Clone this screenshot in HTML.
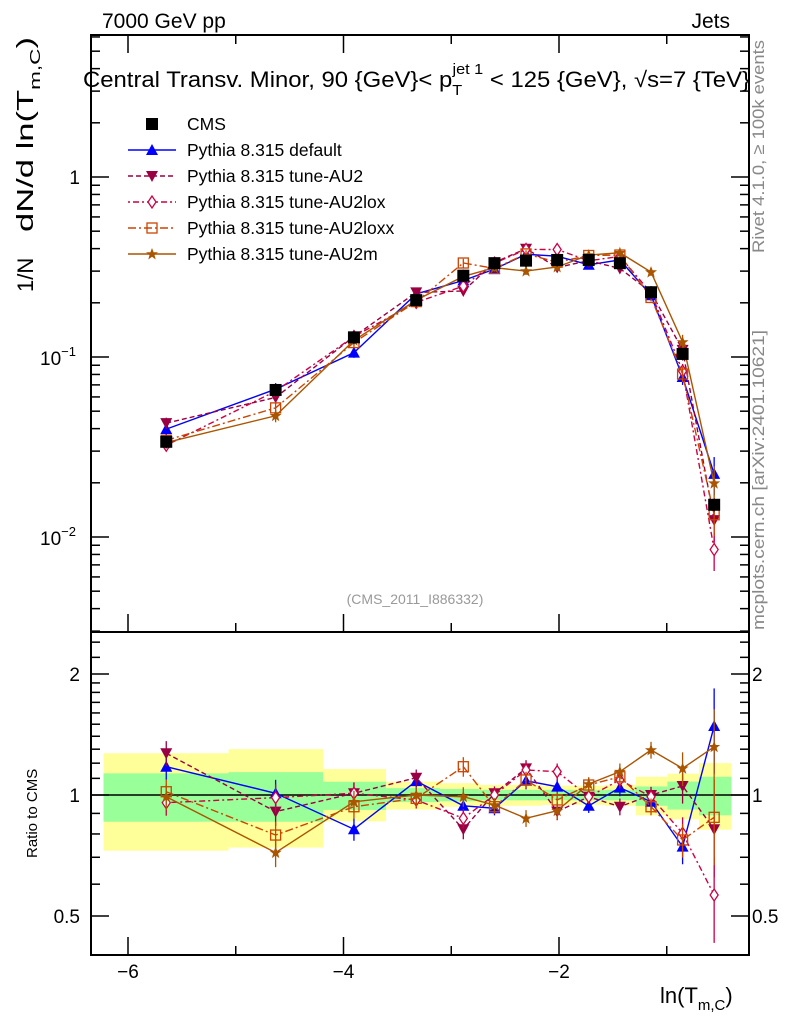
<!DOCTYPE html>
<html><head><meta charset="utf-8"><style>
html,body{margin:0;padding:0;background:#fff;}
svg{display:block;font-family:"Liberation Sans",Arial,sans-serif;}
</style></head><body>
<svg id="chart" width="786" height="1024" viewBox="0 0 786 1024" xmlns="http://www.w3.org/2000/svg">
<g id="bands"></g>
<g id="frames"></g>
<g id="series"></g>
<g id="texts">
 <text x="102" y="28" font-size="21">7000 GeV pp</text>
 <text x="730" y="28" font-size="21" text-anchor="end">Jets</text>
 <text x="83" y="87" font-size="22" textLength="667" lengthAdjust="spacingAndGlyphs">Central Transv. Minor, 90 {GeV}&lt; p<tspan font-size="15" dy="8">T</tspan><tspan font-size="15" dx="-9" dy="-21">jet 1</tspan><tspan dy="13"> &lt; 125 {GeV}, √s=7 {TeV}</tspan></text>
 <text transform="translate(33,292) rotate(-90)" font-size="22">1/N</text>
 <text transform="translate(33,232) rotate(-90)" font-size="23" textLength="195" lengthAdjust="spacingAndGlyphs">dN/d ln(T<tspan font-size="15" dy="7">m,C</tspan><tspan dy="-7">)</tspan></text>
 <text transform="translate(37,858) rotate(-90)" font-size="15">Ratio to CMS</text>
 <text transform="translate(764,253) rotate(-90)" font-size="17" fill="#888" textLength="213" lengthAdjust="spacingAndGlyphs">Rivet 4.1.0, ≥ 100k events</text>
 <text transform="translate(764,630) rotate(-90)" font-size="17" fill="#888" textLength="300" lengthAdjust="spacingAndGlyphs">mcplots.cern.ch [arXiv:2401.10621]</text>
 <text x="415" y="604" font-size="14" fill="#999" text-anchor="middle">(CMS_2011_I886332)</text>
 <text x="660" y="1003" font-size="22">ln(T<tspan font-size="15" dy="7">m,C</tspan><tspan dy="-7">)</tspan></text>
</g>
<g id="legend"></g>
</svg>
<script>
const xCenters=[-5.645,-4.630,-3.903,-3.325,-2.888,-2.599,-2.306,-2.017,-1.724,-1.435,-1.146,-0.853,-0.560];
const binEdges=[-6.227,-5.067,-4.190,-3.605,-3.104,-2.743,-2.455,-2.158,-1.862,-1.574,-1.287,-0.994,-0.701,-0.400];
const cmsVals=[0.0338,0.0656,0.1286,0.207,0.283,0.332,0.343,0.346,0.346,0.332,0.229,0.104,0.0151];
const yellowLo=[0.727,0.74,0.86,0.92,0.935,0.94,0.94,0.945,0.945,0.94,0.89,0.87,0.82];
const yellowHi=[1.27,1.30,1.16,1.08,1.07,1.06,1.06,1.055,1.055,1.06,1.11,1.13,1.20];
const greenLo=[0.858,0.858,0.918,0.96,0.965,0.97,0.97,0.97,0.97,0.97,0.94,0.92,0.89];
const greenHi=[1.132,1.14,1.079,1.04,1.035,1.03,1.03,1.03,1.03,1.03,1.05,1.08,1.11];
const ratioDefault=[1.176,1.01,0.822,1.083,0.94,0.927,1.085,1.049,0.94,1.043,0.962,0.744,1.485];
const ratioAU2=[1.27,0.909,1.01,1.104,0.822,1.01,1.165,0.909,0.99,0.935,1.0,1.053,0.822];
const ratioAU2lox=[0.957,0.985,1.01,0.972,0.875,1.0,1.154,1.143,0.99,1.09,0.99,0.803,0.564];
const ratioAU2loxx=[1.019,0.795,0.935,0.981,1.176,0.935,1.09,0.972,1.059,1.11,0.935,0.773,0.88];
const ratioAU2m=[0.99,0.719,0.962,1.0,0.99,0.944,0.875,0.914,1.065,1.143,1.294,1.165,1.318];
const relErr=[0.09,0.1,0.08,0.06,0.07,0.05,0.06,0.06,0.05,0.06,0.06,0.12,0.3];

const NS="http://www.w3.org/2000/svg";
const L=91,R=749,T=35,MB=632,B=955;
function X(v){return 559+(v+2)*107.75;}
function Y(v){return 177-180*Math.log10(v);}
function RY(r){return 795-402*Math.log10(r);}
function mk(tag,attrs,parent){const e=document.createElementNS(NS,tag);for(const k in attrs)e.setAttribute(k,attrs[k]);parent.appendChild(e);return e;}
const bands=document.getElementById('bands'),frames=document.getElementById('frames'),ser=document.getElementById('series'),leg=document.getElementById('legend'),texts=document.getElementById('texts');

for(let i=0;i<xCenters.length;i++){
 const x0=X(binEdges[i]),x1=X(binEdges[i+1]);
 const y=mk('rect',{x:x0,y:RY(yellowHi[i]),width:x1-x0,height:RY(yellowLo[i])-RY(yellowHi[i]),fill:'#ffff99'},bands);
 
 
 const g=mk('rect',{x:x0,y:RY(greenHi[i]),width:x1-x0,height:RY(greenLo[i])-RY(greenHi[i]),fill:'#99ff99'},bands);
 
 
}
const f1=mk('rect',{x:L,y:T,width:R-L,height:MB-T,fill:'none',stroke:'#000','stroke-width':2},frames);


const f2=mk('rect',{x:L,y:MB,width:R-L,height:B-MB,fill:'none',stroke:'#000','stroke-width':2},frames);


const one=mk('line',{x1:L,x2:R,y1:RY(1),y2:RY(1),stroke:'#000','stroke-width':1.5},frames);


for(let v=-6.2;v<=-0.35;v+=0.2){const major=Math.abs(v-Math.round(v))<0.01&&Math.round(v)%2===0;const minor=Math.abs(v*2-Math.round(v*2))<0.01;
 if(!minor&&!major)continue;const len=major?18:9;
 for(const yb of [MB,B]){mk('line',{x1:X(v),x2:X(v),y1:yb,y2:yb-len,stroke:'#000','stroke-width':1.5},frames);}
 mk('line',{x1:X(v),x2:X(v),y1:T,y2:T+len,stroke:'#000','stroke-width':1.5},frames);
}
for(const v of [-6,-4,-2]){const t=mk('text',{x:X(v),y:978,'font-size':19,'text-anchor':'middle'},texts);t.textContent='−'+Math.abs(v);
 
 }
for(let d=-3;d<=0;d++){for(let m=1;m<10;m++){const v=m*Math.pow(10,d);const y=Y(v);if(y<T||y>MB)continue;const len=m===1?18:9;
 mk('line',{x1:L,x2:L+len,y1:y,y2:y,stroke:'#000','stroke-width':1.5},frames);mk('line',{x1:R,x2:R-len,y1:y,y2:y,stroke:'#000','stroke-width':1.5},frames);}}
for(let m=1;m<10;m++){const y=Y(m*10);if(y<T)continue;mk('line',{x1:L,x2:L+(m===1?18:9),y1:y,y2:y,stroke:'#000','stroke-width':1.5},frames);mk('line',{x1:R,x2:R-9,y1:y,y2:y,stroke:'#000','stroke-width':1.5},frames);}
const yl1=mk('text',{x:80,y:184,'font-size':19,'text-anchor':'end'},texts);yl1.textContent='1';


for(const [d,y] of [[-1,357],[-2,537]]){const t=mk('text',{x:40,y:y+8,'font-size':19},texts);t.innerHTML='10<tspan font-size="13" dy="-9">−'+(-d)+'</tspan>';
 
 }
for(const r of [0.4,0.5,0.6,0.7,0.8,0.9,1,1.1,1.2,1.3,1.4,1.5,1.6,1.7,1.8,1.9,2,2.2,2.4]){const y=RY(r);if(y<MB||y>B)continue;const len=(r===0.5||r===1||r===2)?18:9;
 mk('line',{x1:L,x2:L+len,y1:y,y2:y,stroke:'#000','stroke-width':1.5},frames);mk('line',{x1:R,x2:R-len,y1:y,y2:y,stroke:'#000','stroke-width':1.5},frames);}
for(const r of [0.5,1,2]){for(const [x,a] of [[80,'end'],[752,'start']]){const t=mk('text',{x:x,y:RY(r)+7,'font-size':19,'text-anchor':a},texts);t.textContent=String(r);
 
 }}

function marker(kind,x,y,color,parent){
 if(kind==='sq')return mk('rect',{x:x-6,y:y-6,width:12,height:12,fill:'#000'},parent);
 if(kind==='tri')return mk('polygon',{points:`${x},${y-6} ${x-6},${y+5} ${x+6},${y+5}`,fill:color},parent);
 if(kind==='dtri')return mk('polygon',{points:`${x},${y+6} ${x-6},${y-5} ${x+6},${y-5}`,fill:color},parent);
 if(kind==='dia')return mk('polygon',{points:`${x},${y-6} ${x-4},${y} ${x},${y+6} ${x+4},${y}`,fill:'#fff',stroke:color,'stroke-width':1.3},parent);
 if(kind==='osq')return mk('rect',{x:x-5,y:y-5,width:10,height:10,fill:'none',stroke:color,'stroke-width':1.3},parent);
 if(kind==='star')return mk('polygon',{points:`${x},${y-6} ${x+1.6},${y-1.8} ${x+6},${y-1.8} ${x+2.5},${y+1} ${x+3.7},${y+5.5} ${x},${y+2.8} ${x-3.7},${y+5.5} ${x-2.5},${y+1} ${x-6},${y-1.8} ${x-1.6},${y-1.8}`,fill:color},parent);
}
const seriesDefs=[
 {name:'Pythia 8.315 default',ratio:ratioDefault,color:'#0000ff',dash:'',m:'tri',key:'default'},
 {name:'Pythia 8.315 tune-AU2',ratio:ratioAU2,color:'#990044',dash:'5,3',m:'dtri',key:'au2'},
 {name:'Pythia 8.315 tune-AU2lox',ratio:ratioAU2lox,color:'#cc0044',dash:'2,3,6,3',m:'dia',key:'au2lox'},
 {name:'Pythia 8.315 tune-AU2loxx',ratio:ratioAU2loxx,color:'#cc4400',dash:'8,3,2,3',m:'osq',key:'au2loxx'},
 {name:'Pythia 8.315 tune-AU2m',ratio:ratioAU2m,color:'#aa5500',dash:'',m:'star',key:'au2m'}
];
seriesDefs.forEach(s=>{
 const g=mk('g',{},ser);
 
 
 const main=xCenters.map((x,i)=>[X(x),Y(cmsVals[i]*s.ratio[i])]);
 const rat=xCenters.map((x,i)=>[X(x),RY(s.ratio[i])]);
 for(const pts of [main,rat]){
  const pl=mk('polyline',{points:pts.map(p=>p.join(',')).join(' '),fill:'none',stroke:s.color,'stroke-width':1.4,'stroke-dasharray':s.dash},g);
  
  
 }
 xCenters.forEach((x,i)=>{
  const v=cmsVals[i]*s.ratio[i],e=relErr[i]*0.8;
  mk('line',{x1:X(x),x2:X(x),y1:Y(v*(1+e)),y2:Y(Math.max(v*(1-e),1e-4)),stroke:s.color,'stroke-width':1.3},g);
  mk('line',{x1:X(x),x2:X(x),y1:RY(s.ratio[i]*(1+e)),y2:RY(s.ratio[i]*(1-e)),stroke:s.color,'stroke-width':1.3},g);
  const mm=marker(s.m,X(x),Y(v),s.color,g);
  
  
  const mr=marker(s.m,X(x),RY(s.ratio[i]),s.color,g);
  
  
 });
});
const cg=mk('g',{},ser);


xCenters.forEach((x,i)=>{
 const v=cmsVals[i];
 mk('line',{x1:X(x),x2:X(x),y1:Y(v*1.08),y2:Y(v*0.92),stroke:'#000','stroke-width':1.3},cg);
 const m=marker('sq',X(x),Y(v),'#000',cg);
 
 
});
const rows=[{name:'CMS',m:'sq',color:'#000',dash:null}].concat(seriesDefs);
rows.forEach((s,i)=>{
 const y=124+i*26;
 const g=mk('g',{},leg);
 
 
 if(s.dash!==null)mk('line',{x1:128,x2:176,y1:y,y2:y,stroke:s.color,'stroke-width':1.4,'stroke-dasharray':s.dash},g);
 marker(s.m,152,y,s.color,g);
 const t=mk('text',{x:187,y:y+6,'font-size':17.5},g);t.textContent=s.name;
});
</script>
</body></html>
